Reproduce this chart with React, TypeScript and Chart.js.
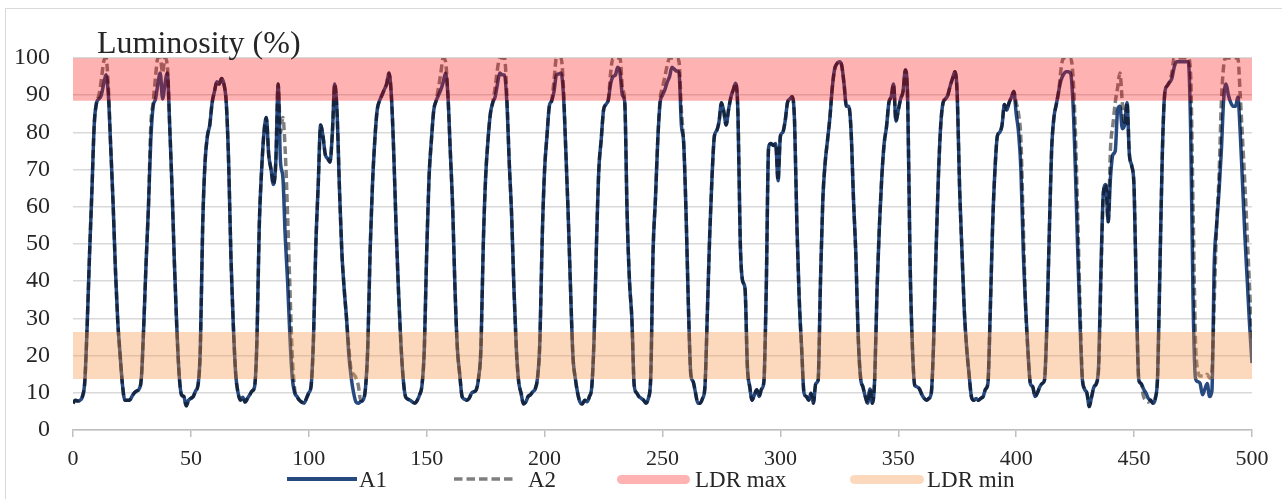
import React, { useEffect, useRef } from "react";
import { Chart, registerables } from "chart.js";

Chart.register(...registerables);

// ---- data (hour index 0..500) ----
const a1Values: number[] = [
  7.2, 8, 7.8, 8, 9, 13, 28, 47, 64, 82,
  88, 89, 90, 93, 95.5, 90, 76, 61, 43, 29,
  20, 12, 8, 8, 8, 9, 10, 10.5, 11, 14,
  28, 45, 60, 78, 87, 89, 93, 96, 89, 93,
  96, 82, 65, 45, 28, 15, 9.5, 9, 6.5, 8,
  8.5, 9, 10.5, 12, 22, 55, 72, 79, 82, 88,
  91, 93.6, 93, 94.5, 93, 88, 72, 46, 28, 15,
  10, 8, 8.8, 7.5, 8.5, 9.5, 10.5, 11.6, 24, 55,
  70, 80, 84, 74, 70, 66, 72, 93, 72, 68,
  52, 40, 25, 14, 10, 9, 8, 7.5, 7.2, 8.5,
  10, 12, 25, 50, 66, 82, 79, 74, 73, 72,
  80, 93, 85, 65, 48, 38, 30, 20, 14, 10,
  7.5, 7.2, 7.6, 8, 11, 22, 48, 66, 78, 86,
  88.5, 90, 91.5, 93, 96, 90, 75, 55, 38, 24,
  14, 9, 8.3, 8, 7.5, 7.2, 8, 9.5, 12, 22,
  48, 68, 78, 86, 88.5, 90, 91.5, 93.5, 96, 90,
  75, 60, 38, 22, 15, 9, 8.3, 8, 8.5, 9.9,
  10.3, 10.8, 14, 22, 50, 68, 78, 85, 88, 89.5,
  93, 96, 95.5, 95.4, 88, 72, 58, 38, 22, 13,
  10, 7, 7.5, 9, 9.5, 10.3, 11, 14, 24, 52,
  70, 79, 87, 88.5, 91, 95.4, 95.7, 96, 90, 75,
  58, 38, 20, 14, 10, 7.5, 7, 8, 7.6, 9,
  11.6, 25, 50, 70, 78, 86, 87.5, 88.7, 93, 95,
  95.4, 97.5, 96, 90, 88, 58, 40, 30, 12, 10,
  9, 8.5, 8, 7.2, 8.5, 14, 48, 62, 78, 88,
  90, 91.5, 93.5, 95, 97.5, 97, 96.5, 96, 82, 77,
  58, 33, 15, 13, 10, 7.2, 7.2, 8.5, 11.6, 31,
  52, 68, 79, 80.5, 83, 88, 85.6, 82, 86, 89.5,
  91.4, 93.2, 85, 50, 40, 38, 17, 11.6, 8, 9.5,
  10.8, 9, 11, 13, 38, 76, 77, 76.5, 77, 67,
  79, 80, 83, 88, 89, 89.6, 83, 55, 35, 22,
  10, 9, 8, 9.9, 7.2, 12.5, 13.4, 40, 62, 72,
  78, 84, 92, 97, 98.5, 99, 98, 93, 87, 87,
  80, 62, 47, 25, 14, 11.6, 9, 7.2, 11, 7.2,
  14, 38, 55, 68, 77, 81.5, 88, 89.6, 93, 83,
  86, 89, 91, 96.8, 88, 45, 22, 12, 11.6, 11,
  9.5, 8.5, 8, 8.5, 10, 24, 48, 68, 82, 88,
  89, 90, 92.5, 94.5, 96.3, 90, 65, 48, 32, 22,
  15, 9, 8, 8.5, 8, 8.5, 9, 11, 12.5, 32,
  55, 70, 79, 80, 82, 87.5, 86, 88, 89.5, 91,
  85, 80, 70, 48, 33, 21, 12.5, 11.6, 9, 10,
  11.6, 12.5, 13.4, 28, 52, 75, 84, 87.5, 91, 94,
  95.5, 96.3, 96.3, 96, 89, 72, 50, 30, 14, 11,
  9.9, 6.3, 9, 11.6, 12.5, 18, 45, 64, 66, 56,
  68, 74, 75, 86, 87, 81, 82, 88, 74, 71,
  65, 35, 13.4, 12.5, 11, 10, 8.5, 8, 7.2, 8.5,
  15, 45, 75, 90.5, 92.5, 93.5, 94.5, 97.5, 99, 99,
  99, 99, 99, 99, 80, 35, 14, 13, 12.5, 9.5,
  11, 12.5, 9, 10.5, 45, 55, 64, 75, 89, 93,
  90, 88, 87, 87, 89.5, 80, 66, 52, 40, 28,
  18,
];

const a2Values: number[] = [
  7.2, 8, 7.8, 8, 9, 13, 28, 47, 64, 82,
  88, 90, 94, 99, 100, 92, 76, 61, 43, 29,
  20, 12, 8, 8, 8, 9, 10, 10.5, 11, 14,
  28, 45, 60, 82, 88, 95, 100, 100, 96, 100,
  98, 82, 65, 45, 28, 15, 9.5, 9, 6.5, 8,
  8.5, 9, 10.5, 12, 22, 55, 72, 79, 82, 88,
  91, 93.6, 93, 94.5, 93, 88, 72, 46, 28, 15,
  10, 8, 8.8, 7.5, 8.5, 9.5, 10.5, 11.6, 24, 55,
  70, 80, 84, 74, 70, 66, 72, 93, 80, 84,
  75, 58, 38, 20, 11, 9, 8, 7.5, 7.2, 8.5,
  10, 12, 25, 50, 66, 82, 79, 74, 73, 72,
  80, 93, 85, 65, 48, 38, 30, 22, 16, 15,
  14, 12, 8, 8, 11, 22, 48, 66, 78, 86,
  88.5, 90, 91.5, 93, 96, 90, 75, 55, 38, 24,
  14, 9, 8.3, 8, 7.5, 7.2, 8, 9.5, 12, 22,
  48, 68, 78, 86, 88.5, 92, 96, 100, 99, 90,
  75, 60, 38, 22, 15, 9, 8.3, 8, 8.5, 9.9,
  10.3, 10.8, 14, 22, 50, 68, 78, 85, 88, 92,
  97, 100, 100, 100, 90, 72, 58, 38, 22, 13,
  10, 7, 7.5, 9, 9.5, 10.3, 11, 14, 24, 52,
  70, 79, 87, 88.5, 94, 100, 100, 100, 92, 75,
  58, 38, 20, 14, 10, 7.5, 7, 8, 7.6, 9,
  11.6, 25, 50, 70, 78, 86, 87.5, 88.7, 96, 100,
  100, 100, 100, 92, 88, 58, 40, 30, 12, 10,
  9, 8.5, 8, 7.2, 8.5, 14, 48, 62, 78, 89,
  92, 95, 98, 100, 100, 100, 100, 99, 86, 77,
  58, 33, 15, 13, 10, 7.2, 7.2, 8.5, 11.6, 31,
  52, 68, 79, 80.5, 83, 88, 85.6, 82, 86, 89.5,
  91.4, 93.2, 85, 50, 40, 38, 17, 11.6, 8, 9.5,
  10.8, 9, 11, 13, 38, 76, 77, 76.5, 77, 67,
  79, 80, 83, 88, 89, 89.6, 83, 55, 35, 22,
  10, 9, 8, 9.9, 7.2, 12.5, 13.4, 40, 62, 72,
  78, 84, 92, 97, 98.5, 99, 98, 93, 87, 87,
  80, 62, 47, 25, 14, 11.6, 9, 7.2, 11, 7.2,
  14, 38, 55, 68, 77, 81.5, 88, 89.6, 93, 83,
  86, 89, 91, 96.8, 88, 45, 22, 12, 11.6, 11,
  9.5, 8.5, 8, 8.5, 10, 24, 48, 68, 82, 88,
  89, 90, 92.5, 94.5, 96.3, 90, 65, 48, 32, 22,
  15, 9, 8, 8.5, 8, 8.5, 9, 11, 12.5, 32,
  55, 70, 79, 80, 82, 87.5, 86, 88, 89.5, 91,
  88, 85, 78, 55, 33, 21, 12.5, 11.6, 9, 10,
  11.6, 12.5, 13.4, 28, 52, 75, 84, 87.5, 91, 97,
  100, 100, 100, 100, 96, 82, 60, 35, 15, 11,
  9.9, 6.3, 9, 11.6, 12.5, 17, 42, 64, 66, 56,
  76, 82, 88, 92, 96, 88, 82, 88, 74, 71,
  65, 35, 13.4, 12.5, 9, 8, 7.5, 8, 7.2, 8.5,
  15, 45, 75, 90.5, 92.5, 93.5, 96, 100, 100, 100,
  100, 100, 100, 100, 95, 60, 25, 16, 14.5, 14.5,
  14.5, 15, 14, 16, 35, 55, 68, 88, 98, 100,
  100, 100, 100, 100, 100, 90, 78, 66, 52, 38,
  24,
];

const bandHours: number[] = [0, 500];
const ldrMaxLevel: number[] = [94.2, 94.2];
const ldrMinLevel: number[] = [20, 20];

const seriesLabels: string[] = ["A1", "A2", "LDR max", "LDR min"];
const axisTitle = "Luminosity (%)";

const SERIF = "'Liberation Serif', 'Times New Roman', serif";
const TEXT = "#262626";
const A1_COLOR = "#264a80";
const A2_COLOR = "rgba(0,0,0,0.5)";
const MAX_COLOR = "rgba(255,0,0,0.3)";
const MIN_COLOR = "rgba(247,150,70,0.36)";

export default function App() {
  const ref = useRef<HTMLCanvasElement>(null);

  useEffect(() => {
    const hours = a1Values.map((_, i) => i);
    const chart = new Chart(ref.current as HTMLCanvasElement, {
      type: "line",
      data: {
        datasets: [
          {
            label: seriesLabels[2],
            data: bandHours.map((x, i) => ({ x, y: ldrMaxLevel[i] })),
            borderColor: MAX_COLOR,
            borderWidth: 42.5,
            borderCapStyle: "butt",
            pointRadius: 0,
            order: 0,
          },
          {
            label: seriesLabels[3],
            data: bandHours.map((x, i) => ({ x, y: ldrMinLevel[i] })),
            borderColor: MIN_COLOR,
            borderWidth: 47,
            borderCapStyle: "butt",
            pointRadius: 0,
            order: 0,
          },
          {
            label: seriesLabels[1],
            data: hours.map((x) => ({ x, y: a2Values[x] })),
            borderColor: A2_COLOR,
            borderWidth: 3.5,
            borderDash: [8, 4],
            pointRadius: 0,
            cubicInterpolationMode: "monotone",
            borderJoinStyle: "round",
            order: 1,
          },
          {
            label: seriesLabels[0],
            data: hours.map((x) => ({ x, y: a1Values[x] })),
            borderColor: A1_COLOR,
            borderWidth: 3.5,
            pointRadius: 0,
            cubicInterpolationMode: "monotone",
            borderJoinStyle: "round",
            order: 2,
          },
        ] as any,
      },
      options: {
        responsive: false,
        animation: false,
        events: [],
        layout: { padding: { left: 0, right: 30, top: 58, bottom: 0 } },
        plugins: {
          legend: { display: false },
          tooltip: { enabled: false },
          title: { display: false },
        },
        scales: {
          x: {
            type: "linear",
            min: 0,
            max: 500,
            ticks: {
              stepSize: 50,
              maxRotation: 0,
              autoSkip: false,
              padding: 9,
              color: TEXT,
              font: { family: SERIF, size: 22 },
            },
            grid: {
              drawOnChartArea: false,
              drawTicks: true,
              tickLength: 7,
              color: "#bfbfbf",
              lineWidth: 1.5,
            },
            border: { display: true, color: "#bfbfbf", width: 1.5 },
            afterFit: (s: any) => {
              s.height = 69;
            },
          },
          y: {
            min: 0,
            max: 100,
            ticks: {
              stepSize: 10,
              padding: 23,
              color: TEXT,
              font: { family: SERIF, size: 24 },
            },
            grid: { color: "#d9d9d9", lineWidth: 1.5, drawTicks: false },
            border: { display: false },
            afterFit: (s: any) => {
              s.width = 73;
            },
          },
        },
      } as any,
    });
    return () => chart.destroy();
  }, []);

  const textStyle: React.CSSProperties = {
    position: "absolute",
    fontFamily: SERIF,
    fontSize: 23,
    lineHeight: "23px",
    color: TEXT,
    whiteSpace: "nowrap",
    top: 467.5,
  };

  return (
    <div
      style={{
        position: "fixed",
        left: 0,
        top: 0,
        width: 1282,
        height: 499,
        background: "#ffffff",
        overflow: "hidden",
      }}
    >
      <div
        style={{
          position: "absolute",
          left: 5,
          top: 8,
          width: 1400,
          height: 600,
          border: "1px solid #d9d9d9",
        }}
      />
      <canvas
        ref={ref}
        width={1282}
        height={499}
        style={{ position: "absolute", left: 0, top: 0, width: 1282, height: 499 }}
      />
      <div
        style={{
          position: "absolute",
          left: 97,
          top: 25.5,
          fontFamily: SERIF,
          fontSize: 32,
          lineHeight: "32px",
          color: TEXT,
          whiteSpace: "nowrap",
        }}
      >
        {axisTitle}
      </div>
      {/* legend */}
      <div style={{ position: "absolute", left: 287, top: 477.25, width: 70, height: 3.5, background: A1_COLOR }} />
      <div style={{ ...textStyle, left: 359 }}>{seriesLabels[0]}</div>
      <svg style={{ position: "absolute", left: 454, top: 475 }} width={64} height={8}>
        <line x1={0} y1={4} x2={62} y2={4} stroke={A2_COLOR} strokeWidth={3.5} strokeDasharray="8.5 4" />
      </svg>
      <div style={{ ...textStyle, left: 528 }}>{seriesLabels[1]}</div>
      <div
        style={{ position: "absolute", left: 617, top: 474.5, width: 73, height: 9, borderRadius: 4.5, background: MAX_COLOR }}
      />
      <div style={{ ...textStyle, left: 695 }}>{seriesLabels[2]}</div>
      <div
        style={{ position: "absolute", left: 850, top: 474.5, width: 74, height: 9, borderRadius: 4.5, background: MIN_COLOR }}
      />
      <div style={{ ...textStyle, left: 927 }}>{seriesLabels[3]}</div>
    </div>
  );
}
